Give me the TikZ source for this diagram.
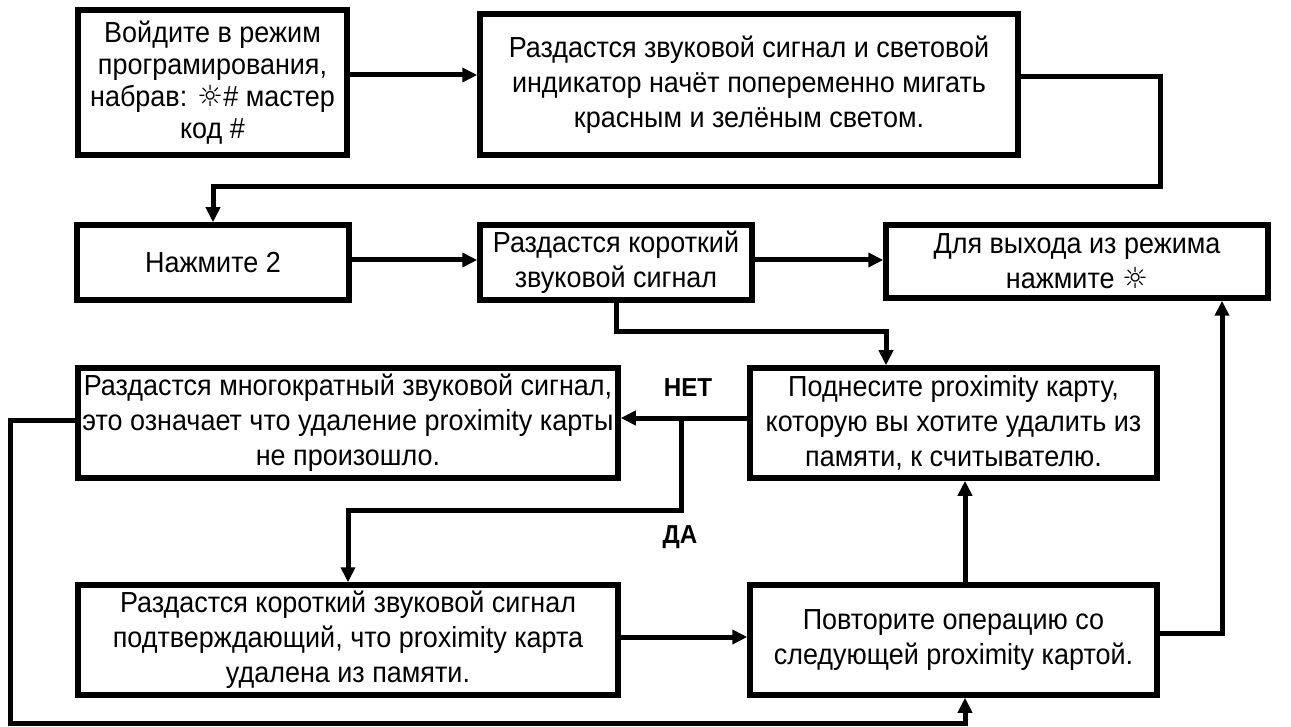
\documentclass[tikz,border=0pt]{standalone}
\usepackage{fontspec}
\setmainfont{Liberation Sans}[FakeStretch=0.93]
\newfontfamily\symfont{DejaVu Sans}
\usetikzlibrary{arrows.meta}
\begin{document}
\begin{tikzpicture}[x=1pt,y=-1pt,
  box/.style={draw, line width=5.5pt, align=center, inner sep=1pt, font=\fontsize{29}{35}\selectfont},
  arr/.style={line width=5pt, -{Triangle[length=15pt,width=14pt]}},
  lbl/.style={font=\fontsize{26}{30}\selectfont\bfseries}]
\useasboundingbox (0,0) rectangle (1291,727);
\fill[white] (0,0) rectangle (1291,727);
\node[box, minimum width=269pt, minimum height=145pt, font=\fontsize{29}{32}\selectfont] (b1) at (212.5,82.5)
  {Войдите в режим\\програмирования,\\набрав: {\symfont ☼}\# мастер\\код \#};
\node[box, minimum width=538pt, minimum height=141pt] (b2) at (749,84.5)
  {Раздастся звуковой сигнал и световой\\индикатор начёт попеременно мигать\\красным и зелёным светом.};
\node[box, minimum width=272pt, minimum height=75pt] (b3) at (213,262.5) {Нажмите 2};
\node[box, minimum width=272pt, minimum height=75pt] (b4) at (616,262.5) {Раздастся короткий\\звуковой сигнал};
\node[box, minimum width=382pt, minimum height=73pt] (b5) at (1077,261.5) {Для выхода из режима\\нажмите {\symfont ☼}};
\node[box, minimum width=407pt, minimum height=110pt] (b6) at (953.5,423)
  {Поднесите proximity карту,\\которую вы хотите удалить из\\памяти, к считывателю.};
\node[box, minimum width=540pt, minimum height=110pt] (b7) at (348,423)
  {Раздастся многократный звуковой сигнал,\\это означает что удаление proximity карты\\не произошло.};
\node[box, minimum width=540pt, minimum height=110pt] (b8) at (348,640)
  {Раздастся короткий звуковой сигнал\\подтверждающий, что proximity карта\\удалена из памяти.};
\node[box, minimum width=407pt, minimum height=110pt] (b9) at (953.5,640)
  {Повторите операцию со\\следующей proximity картой.};
\node[lbl] (no) at (688,388) {НЕТ};
\node[lbl] (yes) at (680,537) {ДА};
\coordinate (r1) at (0,75);
\coordinate (r2) at (0,77);
\coordinate (c1) at (1160,187);
\coordinate (r3) at (0,260);
\coordinate (c2) at (886,332);
\coordinate (r4) at (0,418);
\coordinate (j) at (681,418);
\coordinate (c3) at (681,510);
\coordinate (r5) at (0,637);
\coordinate (x965) at (965,0);
\coordinate (c4) at (1222,633);
\coordinate (c5) at (10,420);
\coordinate (c6) at (10,723);
\draw[arr] (b1.east |- r1) -- (b2.west |- r1);
\draw[arr] (b2.east |- r2) -| (c1) -| (b3.north);
\draw[arr] (b3.east |- r3) -- (b4.west |- r3);
\draw[arr] (b4.east |- r3) -- (b5.west |- r3);
\draw[arr] (b4.south) |- (c2) -- (c2 |- b6.north);
\draw[arr] (b6.west |- r4) -- (b7.east |- r4);
\draw[arr] (j) -- (c3) -| (b8.north);
\draw[arr] (b8.east |- r5) -- (b9.west |- r5);
\draw[arr] (b9.north -| x965) -- (b6.south -| x965);
\draw[arr] (b9.east |- c4) -- (c4) -- (c4 |- b5.south);
\draw[arr] (b7.west |- c5) -- (c5) -- (c6) -| (b9.south -| x965);
\end{tikzpicture}
\end{document}
